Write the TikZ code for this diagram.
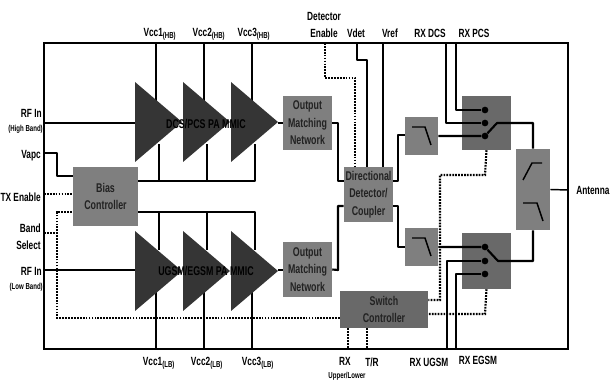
\documentclass[tikz,border=0pt]{standalone}
\usepackage{fontspec}
\setmainfont{Liberation Sans}[FakeStretch=0.7]
\usepackage{tikz}
\definecolor{TriDark}{HTML}{353535}
\definecolor{BoxMid}{HTML}{7F7F7F}
\definecolor{BoxDark}{HTML}{696969}
\definecolor{InkDark}{HTML}{222222}
\tikzset{
  wire/.style={draw=black,line width=1.6pt,line join=round},
  ctrl/.style={draw=black,line width=1.6pt,dash pattern=on 1.3pt off 0.9pt},
  glyph/.style={draw=black,line width=1.1pt},
  blk/.style={fill=BoxMid,inner sep=0pt,align=center,font=\bfseries\fontsize{9.5}{13.2}\selectfont,text=InkDark},
  lbl/.style={inner sep=0pt,font=\bfseries\fontsize{8.9}{11}\selectfont,text=black},
  mmic/.style={inner sep=0pt,font=\bfseries\fontsize{9.5}{11}\selectfont,text=black},
  tinylbl/.style={inner sep=0pt,font=\bfseries\fontsize{6.5}{8}\selectfont,text=black},
  swdot/.style={circle,fill=black,inner sep=0pt,minimum size=5pt},
}
\newcommand{\blkat}[7][]{\node[blk,minimum width=#4*0.75pt,minimum height=#5*0.75pt,#1] (#2) at (#3,#6) {#7};}
\newcommand{\subtag}[1]{\textsubscript{\fontsize{6.5}{8}\selectfont(#1)}}
\begin{document}
\begin{tikzpicture}[x=0.75pt,y=-0.75pt]
  \useasboundingbox (0,0) rectangle (611,381);
  % package outline
  \draw[draw=black,line width=1.1pt] (44,43) rectangle (568,349);
  % pins on the outline
  \coordinate (vccTa) at (156,43);
  \coordinate (vccTb) at (204,43);
  \coordinate (vccTc) at (252,43);
  \coordinate (vccBa) at (156,349);
  \coordinate (vccBb) at (204,349);
  \coordinate (vccBc) at (252,349);
  \coordinate (detPin) at (325,43);
  \coordinate (vdetPin) at (357,43);
  \coordinate (vrefPin) at (383,43);
  \coordinate (dcsPin) at (446,43);
  \coordinate (pcsPin) at (456,43);
  \coordinate (ugsmPin) at (447,349);
  \coordinate (egsmPin) at (456,349);
  \coordinate (rxPin) at (348,349);
  \coordinate (trPin) at (367,349);
  \coordinate (rfHPin) at (44,123);
  \coordinate (rfLPin) at (44,270);
  \coordinate (vapcPin) at (44,153);
  \coordinate (txPin) at (44,194);
  \coordinate (bandPin) at (44,233);
  \coordinate (antPin) at (568,190);
  % triangle inputs and outputs
  \coordinate (triHin) at (135,123);
  \coordinate (triLin) at (135,270);
  \coordinate (triHout) at (278,123);
  \coordinate (triLout) at (278,270);
  % supply lines go under the triangles
  \draw[wire] (vccTa) -- (vccTa |- 0,102);
  \draw[wire] (vccTb) -- (vccTb |- 0,102);
  \draw[wire] (vccTc) -- (vccTc |- 0,102);
  \draw[wire] (vccBa) -- (vccBa |- 0,291);
  \draw[wire] (vccBb) -- (vccBb |- 0,291);
  \draw[wire] (vccBc) -- (vccBc |- 0,291);
  % blocks
  \blkat{bias}{105.5}{65}{59}{196.5}{Bias\\Controller}
  \blkat{omnH}{307.5}{49}{54}{123}{Output\\Matching\\Network}
  \blkat{omnL}{307.5}{49}{55}{269.5}{Output\\Matching\\Network}
  \blkat{coupler}{368.5}{49}{55}{194.5}{Directional\\Detector/\\Coupler}
  \blkat{lpfH}{421.5}{33}{38}{136}{}
  \blkat{lpfL}{421.5}{33}{38}{247}{}
  \blkat[fill=BoxDark]{swH}{486.5}{49}{54}{123}{}
  \blkat[fill=BoxDark]{swL}{486.5}{49}{56}{261}{}
  \blkat{diplex}{533}{34}{81}{189.5}{}
  \blkat[fill=BoxDark]{swctl}{384}{88}{37}{309.5}{Switch\\Controller}
  % bias feeds
  \draw[wire] (bias.east |- 0,181) -- (255,181) -- (255,144);
  \draw[wire] (207,181) -- (207,144);
  \draw[wire] (159,181) -- (159,144);
  \draw[wire] (bias.east |- 0,212) -- (255,212) -- (255,250);
  \draw[wire] (207,212) -- (207,250);
  \draw[wire] (159,212) -- (159,250);
  % signal path
  \draw[wire] (rfHPin) -- (triHin);
  \draw[wire] (rfLPin) -- (triLin);
  \draw[wire] (triHout) -- (omnH.west |- triHout);
  \draw[wire] (triLout) -- (omnL.west |- triLout);
  \draw[wire] (omnH.east) -- (338,123) -- (338,181) -- (coupler.west |- 0,181);
  \draw[wire] (omnL.east) -- (338,270) -- (338,206) -- (coupler.west |- 0,206);
  \draw[wire] (coupler.east |- 0,181) -- (398,181) -- (398,135) -- (lpfH.west |- 0,135);
  \draw[wire] (coupler.east |- 0,206) -- (398,206) -- (398,247) -- (lpfL.west |- 0,247);
  % triangles
  \foreach \xs in {135,183,231} {
    \fill[TriDark] (\xs,82) -- (\xs+47,122) -- (\xs,162) -- cycle;
    \fill[TriDark] (\xs,231) -- (\xs+47,271) -- (\xs,311) -- cycle;
  }
  \node[mmic] (mmicH) at (206,124) {DCS/PCS PA MMIC};
  \node[mmic] (mmicL) at (206,271) {UGSM/EGSM PA MMIC};
  % switch contacts
  \foreach \nm/\ym in {a/110,b/123,c/136,d/247,e/261,f/274}
    \node[swdot] (dot\nm) at (485,\ym) {};
  \draw[wire] (pcsPin) -- (pcsPin |- dota) -- (dota);
  \draw[wire] (dcsPin) -- (dcsPin |- dotb) -- (dotb);
  \draw[wire] (lpfH.east |- dotc) -- (dotc) -- (497,123) -- (533,123) -- (diplex.north);
  \draw[wire] (lpfL.east |- dotd) -- (dotd) -- (498,261) -- (533,261) -- (diplex.south);
  \draw[wire] (ugsmPin) -- (ugsmPin |- dote) -- (dote);
  \draw[wire] (egsmPin) -- (egsmPin |- dotf) -- (dotf);
  \draw[line width=1.1pt] (diplex.east) -- (antPin);
  % filter marks
  \draw[glyph] (412,127) -- (425,127) -- (431,145);
  \draw[glyph] (412,238) -- (425,238) -- (431,256);
  \draw[glyph] (523,180) -- (532,163) -- (542,163);
  \draw[glyph] (523,203) -- (537,203) -- (543,221);
  % control lines
  \draw[wire] (vdetPin) -- (357,60) -- (367,60) -- (367,167);
  \draw[wire] (vrefPin) -- (383,167);
  \draw[ctrl] (detPin) -- (325,78) -- (355,78) -- (355,167);
  \draw[ctrl] (swH.south) -- (485,175) -- (440,175) -- (440,300) -- (swctl.east |- 0,300);
  \draw[ctrl] (swL.south) -- (485,314) -- (swctl.east |- 0,314);
  \draw[ctrl] (swctl.west |- 0,318) -- (57,318) -- (57,212) -- (bias.west |- 0,212);
  \draw[ctrl] (bandPin) -- (57,233);
  \draw[ctrl] (txPin) -- (bias.west |- txPin);
  \draw[wire] (vapcPin) -- (57,153) -- (57,176) -- (bias.west |- 0,176);
  \draw[ctrl] (rxPin |- swctl.south) -- (rxPin);
  \draw[ctrl] (trPin |- swctl.south) -- (trPin);
  % pin labels
  \node[lbl] (vccHa) at (160,34) {Vcc1\subtag{HB}};
  \node[lbl] (vccHb) at (209,34) {Vcc2\subtag{HB}};
  \node[lbl] (vccHc) at (254,34) {Vcc3\subtag{HB}};
  \node[lbl] (vccLa) at (159,363) {Vcc1\subtag{LB}};
  \node[lbl] (vccLb) at (207,363) {Vcc2\subtag{LB}};
  \node[lbl] (vccLc) at (258,363) {Vcc3\subtag{LB}};
  \node[lbl] (detA) at (324,16) {Detector};
  \node[lbl] (detB) at (324,33) {Enable};
  \node[lbl] (vdet) at (356,33) {Vdet};
  \node[lbl] (vref) at (390,33) {Vref};
  \node[lbl] (rxdcs) at (430,33) {RX DCS};
  \node[lbl] (rxpcs) at (474,33) {RX PCS};
  \node[lbl,anchor=east] (rfH) at (42,113) {RF In};
  \node[tinylbl,anchor=east] (rfHs) at (43,129) {(High Band)};
  \node[lbl,anchor=east] (vapc) at (41,156) {Vapc};
  \node[lbl,anchor=east] (txen) at (41,197) {TX Enable};
  \node[lbl,anchor=east] (bandA) at (41,228) {Band};
  \node[lbl,anchor=east] (bandB) at (41,245) {Select};
  \node[lbl,anchor=east] (rfL) at (42,271) {RF In};
  \node[tinylbl,anchor=east] (rfLs) at (43,287) {(Low Band)};
  \node[lbl,anchor=west] (ant) at (576,190) {Antenna};
  \node[lbl] (rxul) at (345,361) {RX};
  \node[tinylbl] (rxuls) at (347,376) {Upper/Lower};
  \node[lbl] (tr) at (372,362) {T/R};
  \node[lbl] (rxu) at (429,362) {RX UGSM};
  \node[lbl] (rxe) at (478,360) {RX EGSM};
\end{tikzpicture}
\end{document}
